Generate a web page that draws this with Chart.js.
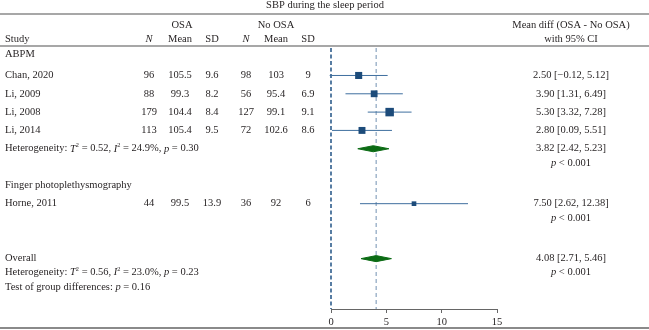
<!DOCTYPE html>
<html>
<head>
<meta charset="utf-8">
<script src="https://cdn.jsdelivr.net/npm/chart.js@4.4.1/dist/chart.umd.min.js"></script>
<style>
  html, body { margin: 0; padding: 0; background: #fff; }
  #wrap { width: 649px; height: 330px; position: relative; }
</style>
</head>
<body>
<div id="wrap"><canvas id="forest"></canvas></div>
<script>
// study level data
var studies = ['Chan, 2020', 'Li, 2009', 'Li, 2008', 'Li, 2014', 'Horne, 2011'];
var osaN = [96, 88, 179, 113, 44];
var osaMean = [105.5, 99.3, 104.4, 105.4, 99.5];
var osaSD = [9.6, 8.2, 8.4, 9.5, 13.9];
var noN = [98, 56, 127, 72, 36];
var noMean = [103, 95.4, 99.1, 102.6, 92];
var noSD = [9, 6.9, 9.1, 8.6, 6];
var meanDiff = [2.50, 3.90, 5.30, 2.80, 7.50];
var ciLow = [-0.12, 1.31, 3.32, 0.09, 2.62];
var ciHigh = [5.12, 6.49, 7.28, 5.51, 12.38];
var studyRow = [1, 2, 3, 4, 8];

// pooled estimates (ABPM subgroup, overall)
var pooledEst = [3.82, 4.08];
var pooledLow = [2.42, 2.71];
var pooledHigh = [5.23, 5.46];
var pooledRow = [5, 11];

var groups = ['ABPM', 'Finger photoplethysmography'];
var groupRow = [-0.17, 7];
var xTicks = [0, 5, 10, 15];

// marker styles
var squareRadius = [5, 4.8, 6, 4.9, 3.3];
var diamondHalf = 0.165; // in row units

var FONT = '"Liberation Serif", "DejaVu Serif", serif';
var FS = 10.5;
var INK = '#231f20';

function fmt2(v) {
    return v.toFixed(2).replace('-', '\u2212');
}

var squares = meanDiff.map(function(v, i) { return {x: v, y: studyRow[i]}; });

function diamond(k) {
    var r = pooledRow[k];
    return [
        {x: pooledLow[k], y: r},
        {x: pooledEst[k], y: r - diamondHalf},
        {x: pooledHigh[k], y: r},
        {x: pooledEst[k], y: r + diamondHalf},
        {x: pooledLow[k], y: r}
    ];
}

var yMin = -0.5, yMax = 13.75;

function fontFor(style, size) {
    if (style === 'i') return 'italic ' + size + 'px ' + FONT;
    if (style === 'sup') return (size * 0.6) + 'px ' + FONT;
    return size + 'px ' + FONT;
}

// draws a list of [text, style] runs starting at x
function drawRuns(ctx, runs, x, y, align) {
    var total = 0;
    runs.forEach(function(r) {
        ctx.font = fontFor(r[1], FS);
        total += ctx.measureText(r[0]).width;
    });
    if (align === 'center') x -= total / 2;
    ctx.textAlign = 'left';
    runs.forEach(function(r) {
        ctx.font = fontFor(r[1], FS);
        var dy = r[1] === 'sup' ? -3 : 0;
        ctx.fillText(r[0], x, y + dy);
        x += ctx.measureText(r[0]).width;
    });
}

var tablePlugin = {
    id: 'tableText',
    afterDraw: function(chart) {
        var ctx = chart.ctx;
        var ys = chart.scales.y;
        var W = chart.width;
        function rowY(r) { return ys.getPixelForValue(r); }

        ctx.save();
        // rules
        ctx.strokeStyle = '#8a8a8a';
        ctx.lineWidth = 1.5;
        [14, 46].forEach(function(y) {
            ctx.beginPath(); ctx.moveTo(0, y); ctx.lineTo(W, y); ctx.stroke();
        });
        ctx.lineWidth = 2;
        ctx.beginPath(); ctx.moveTo(0, 328); ctx.lineTo(W, 328); ctx.stroke();

        ctx.fillStyle = INK;
        ctx.textBaseline = 'middle';
        ctx.font = FS + 'px ' + FONT;

        // title
        ctx.textAlign = 'center';
        ctx.fillText('SBP during the sleep period', 325, 5.5);

        // headers
        var h1 = rowY(-1.755), h2 = rowY(-0.99);
        ctx.fillText('OSA', 182, h1);
        ctx.fillText('No OSA', 276, h1);
        ctx.fillText('Mean diff (OSA - No OSA)', 571, h1);
        ctx.fillText('with 95% CI', 571, h2);
        ctx.textAlign = 'left';
        ctx.fillText('Study', 5, h2);
        var cols = [149, 180, 212, 246, 276, 308];
        ctx.textAlign = 'center';
        ['N', 'Mean', 'SD', 'N', 'Mean', 'SD'].forEach(function(t, i) {
            ctx.font = (t === 'N' ? 'italic ' : '') + FS + 'px ' + FONT;
            ctx.fillText(t, cols[i], h2);
        });

        // group labels
        ctx.font = FS + 'px ' + FONT;
        ctx.textAlign = 'left';
        groups.forEach(function(g, i) { ctx.fillText(g, 5, rowY(groupRow[i])); });

        // study rows
        studies.forEach(function(s, i) {
            var y = rowY(studyRow[i]);
            ctx.textAlign = 'left';
            ctx.fillText(s, 5, y);
            ctx.textAlign = 'center';
            var vals = [osaN[i], osaMean[i], osaSD[i], noN[i], noMean[i], noSD[i]];
            vals.forEach(function(v, j) { ctx.fillText(String(v), cols[j], y); });
            ctx.fillText(fmt2(meanDiff[i]) + ' [' + fmt2(ciLow[i]) + ', ' + fmt2(ciHigh[i]) + ']', 571, y);
        });

        // pooled rows
        pooledEst.forEach(function(v, k) {
            ctx.textAlign = 'center';
            ctx.fillText(fmt2(v) + ' [' + fmt2(pooledLow[k]) + ', ' + fmt2(pooledHigh[k]) + ']', 571, rowY(pooledRow[k]));
        });
        [5.78, 8.8, 11.75].forEach(function(r) {
            drawRuns(ctx, [['p', 'i'], [' < 0.001', 'n']], 571, rowY(r), 'center');
        });

        drawRuns(ctx, [['Heterogeneity: ', 'n'], ['T', 'i'], ['2', 'sup'], [' = 0.52, ', 'n'], ['I', 'i'], ['2', 'sup'],
            [' = 24.9%, ', 'n'], ['p', 'i'], [' = 0.30', 'n']], 5, rowY(5), 'left');
        ctx.font = FS + 'px ' + FONT;
        ctx.textAlign = 'left';
        ctx.fillText('Overall', 5, rowY(11));
        drawRuns(ctx, [['Heterogeneity: ', 'n'], ['T', 'i'], ['2', 'sup'], [' = 0.56, ', 'n'], ['I', 'i'], ['2', 'sup'],
            [' = 23.0%, ', 'n'], ['p', 'i'], [' = 0.23', 'n']], 5, rowY(11.75), 'left');
        drawRuns(ctx, [['Test of group differences: ', 'n'], ['p', 'i'], [' = 0.16', 'n']], 5, rowY(12.55), 'left');
        ctx.restore();
    }
};

var datasets = [{
    label: 'studies',
    data: squares,
    pointStyle: 'rect',
    pointRadius: squareRadius,
    backgroundColor: '#1c4b7a',
    borderWidth: 0,
    order: 0
}];

pooledEst.forEach(function(v, k) {
    datasets.push({
        label: 'pooled ' + k,
        data: diamond(k),
        showLine: true,
        fill: 'shape',
        backgroundColor: '#0b6b14',
        borderColor: '#0b6b14',
        borderWidth: 1,
        pointRadius: 0,
        tension: 0,
        order: 1
    });
});

// one whisker per study
studies.forEach(function(s, i) {
    datasets.push({
        label: 'ci ' + s,
        data: [{x: ciLow[i], y: studyRow[i]}, {x: ciHigh[i], y: studyRow[i]}],
        showLine: true,
        borderColor: '#3f6f9f',
        borderWidth: 1,
        pointRadius: 0,
        order: 2
    });
});

datasets.push({
    label: 'no effect',
    data: [{x: 0, y: yMin}, {x: 0, y: yMax}],
    showLine: true,
    borderColor: '#2e5d8c',
    borderWidth: 1.6,
    borderDash: [4, 2.5],
    pointRadius: 0,
    order: 3
});
datasets.push({
    label: 'overall effect',
    data: [{x: pooledEst[1], y: yMin}, {x: pooledEst[1], y: yMax}],
    showLine: true,
    borderColor: '#7f9cba',
    borderWidth: 1.1,
    borderDash: [4, 3],
    pointRadius: 0,
    order: 3
});

var ctx = document.getElementById('forest').getContext('2d');
var chart = new Chart(ctx, {
    type: 'scatter',
    data: { datasets: datasets },
    options: {
        responsive: true,
        maintainAspectRatio: false,
        animation: false,
        clip: false,
        layout: { padding: { left: 331, right: 152, top: 48, bottom: -1.5 } },
        plugins: {
            legend: { display: false },
            tooltip: { enabled: false }
        },
        scales: {
            x: {
                type: 'linear',
                min: 0,
                max: 15,
                afterBuildTicks: function(axis) {
                    axis.ticks = xTicks.map(function(v) { return {value: v}; });
                },
                grid: { display: true, drawOnChartArea: false, drawTicks: true, tickLength: 4, color: '#666', lineWidth: 1 },
                border: { display: true, color: '#666', width: 1 },
                ticks: { color: INK, padding: 4, font: { family: FONT, size: FS, lineHeight: 1 } }
            },
            y: {
                type: 'linear',
                min: yMin,
                max: yMax,
                reverse: true,
                display: false
            }
        }
    },
    plugins: [tablePlugin]
});
</script>
</body>
</html>
